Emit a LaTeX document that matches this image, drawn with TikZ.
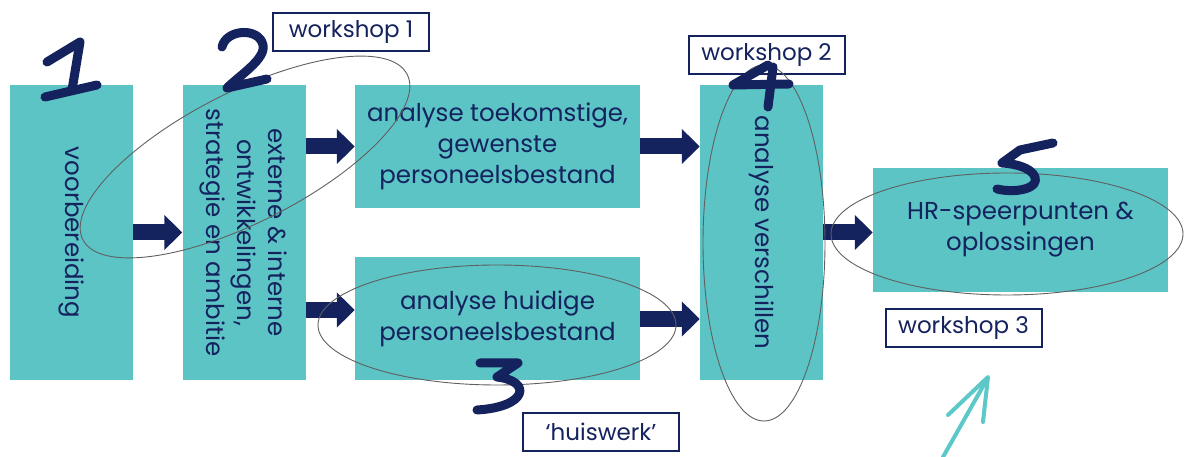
\documentclass[tikz,border=0pt]{standalone}
\usepackage{fontspec}
\usepackage{graphicx}
\setmainfont{Poppins}
\usetikzlibrary{arrows.meta}
\definecolor{boxteal}{HTML}{5CC4C5}
\definecolor{navy}{HTML}{14225E}
\definecolor{penteal}{HTML}{5CC8C8}

\begin{document}
\begin{tikzpicture}[x=1pt,y=1pt,
    box/.style={fill=boxteal, inner sep=0pt, text=navy, align=center,
      font=\fontsize{24.5}{31}\selectfont},
    tallbox/.style={box, minimum width=123pt, minimum height=295pt},
    widebox/.style={box, minimum width=285pt, minimum height=123pt},
    flow/.style={navy, line width=16pt, -{Triangle[length=18pt,width=34pt]}},
    ring/.style={draw=gray!75!black, line width=0.9pt},
    tag/.style={draw=navy, line width=2pt, fill=white, text=navy, inner sep=0pt,
      minimum width=156pt, minimum height=38pt, font=\fontsize{23}{26}\selectfont},
    digit/.style={navy, line width=9pt, line cap=round, line join=round}]
  \useasboundingbox (0,0) rectangle (1184,457);
  % boxes
  \node[tallbox] (prep) at (71.5,224.5) {\rotatebox{-90}{voorbereiding}};
  \node[tallbox] (ext) at (244,224.5) {\rotatebox{-90}{\begin{tabular}{@{}c@{}}externe \& interne\\ ontwikkelingen,\\ strategie en ambitie\end{tabular}}};
  \node[widebox] (future) at (497.5,310.5) {analyse toekomstige,\\ gewenste\\ personeelsbestand};
  \node[widebox] (current) at (497.5,138) {analyse huidige\\ personeelsbestand};
  \node[tallbox] (diff) at (761.5,224.5) {\rotatebox{-90}{analyse verschillen}};
  \node[box, minimum width=295pt, minimum height=124pt] (hr) at (1020.5,227) {HR-speerpunten \&\\ oplossingen};
  % arrows
  \draw[flow] (prep.east) -- (ext.west);
  \draw[flow] (ext.east |- future.west) -- (future.west);
  \draw[flow] ([yshift=9pt]ext.east |- current.west) -- ([yshift=9pt]current.west);
  \draw[flow] (future.east) -- (diff.west |- future.east);
  \draw[flow] (current.east) -- (diff.west |- current.east);
  \draw[flow] (diff.east) -- (hr.west |- diff.east);
  % workshops
  \node[tag] (ws1) at (351,425) {workshop 1};
  \node[tag] (ws2) at (766.5,402) {workshop 2};
  \node[tag] (ws3) at (963.5,129) {workshop 3};
  \node[tag] (home) at (601,25) {`huiswerk'};
  % rings
  \draw[ring, rotate around={27:(245,300)}] (245,300) ellipse [x radius=182, y radius=65];
  \draw[ring] (497,132) ellipse [x radius=179, y radius=60];
  \draw[ring] (764,214) ellipse [x radius=61, y radius=178];
  \draw[ring] (1007,223) ellipse [x radius=176, y radius=61];
  % handwritten numbers
  \draw[digit] (47,395) -- (80,415) -- (72,367);
  \draw[digit] (45,360) -- (97,372);
  \draw[digit] (222,410) .. controls (226,428) and (259,430) .. (263,412) .. controls (266,398) and (240,382) .. (227,369) -- (267,378);
  \draw[digit] (480,94) -- (518,94) -- (497,80) .. controls (532,76) and (528,50) .. (477,47);
  \draw[digit] (768,392) -- (733,372) -- (789,373);
  \draw[digit] (773,390) -- (768,350);
  \draw[digit] (1053,314) -- (1020,307) -- (1002,294) .. controls (1035,292) and (1042,276) .. (1030,270) .. controls (1020,265) and (1005,266) .. (997,268);
  % pen arrow
  \draw[penteal, line width=4pt, line cap=round, line join=round] (943,0) -- (986,76);
  \draw[penteal, line width=4pt, line cap=round, line join=round] (948,42) -- (988,80) -- (983,35);
\end{tikzpicture}
\end{document}
